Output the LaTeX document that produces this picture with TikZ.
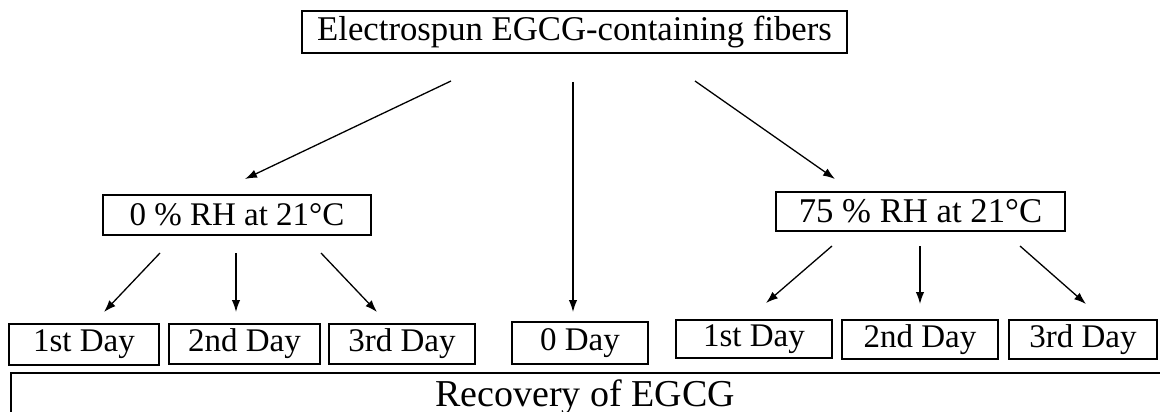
\documentclass[tikz,border=0pt]{standalone}
\usepackage{fontspec}
\setmainfont{Liberation Serif}
\usetikzlibrary{arrows.meta}
\begin{document}
\begin{tikzpicture}[x=1pt,y=-1pt,
  box/.style={draw,line width=1.5pt,inner sep=0pt,font=\fontsize{33}{38}\selectfont,anchor=center},
  big/.style={font=\fontsize{34.7}{40}\selectfont},
  arr/.style={line width=1.3pt,-{Latex[length=12pt,width=8.5pt]}}]
\clip (0,0) rectangle (1160,412);
\fill[white] (0,0) rectangle (1160,412);
% main nodes
\node[box,big,minimum width=545pt,minimum height=42pt] (top) at (574.5,32) {Electrospun EGCG-containing fibers};
\node[box,minimum width=268pt,minimum height=40pt] (left) at (237,215) {0 \% RH at 21°C};
\node[box,big,minimum width=289pt,minimum height=39pt] (right) at (920.5,211.5) {75 \% RH at 21°C};
\node[box,minimum width=150pt,minimum height=41pt] (l1) at (84,344.5) {1st Day};
\node[box,minimum width=151pt,minimum height=40pt] (l2) at (244.5,344) {2nd Day};
\node[box,minimum width=146pt,minimum height=40pt] (l3) at (402,344) {3rd Day};
\node[box,minimum width=136pt,minimum height=42pt] (d0) at (580,343) {0 Day};
\node[box,minimum width=156pt,minimum height=38pt] (r1) at (754,339) {1st Day};
\node[box,minimum width=156pt,minimum height=39pt] (r2) at (920,339.5) {2nd Day};
\node[box,minimum width=148pt,minimum height=39pt] (r3) at (1083,339.5) {3rd Day};
\node[box,anchor=north west,minimum width=1160pt,minimum height=80pt] (rec) at (10,372) {};
\node[font=\fontsize{38}{43}\selectfont,anchor=base] (rectext) at (585,406) {Recovery of EGCG};
% connector end points
\coordinate (a1s) at (451,81);  \coordinate (a1e) at (245,179);
\coordinate (a2s) at (573,82);  \coordinate (a2e) at (573,312);
\coordinate (a3s) at (695,81);  \coordinate (a3e) at (835,179);
\coordinate (b1s) at (160,253); \coordinate (b1e) at (104,312);
\coordinate (b2s) at (236,253); \coordinate (b2e) at (236,312);
\coordinate (b3s) at (321,253); \coordinate (b3e) at (377,312);
\coordinate (c1s) at (832,246); \coordinate (c1e) at (766,303);
\coordinate (c2s) at (920,246); \coordinate (c2e) at (920,304);
\coordinate (c3s) at (1020,246); \coordinate (c3e) at (1086,304);
\draw[arr] (a1s) -- (a1e);
\draw[arr] (a2s) -- (a2e);
\draw[arr] (a3s) -- (a3e);
\draw[arr] (b1s) -- (b1e);
\draw[arr] (b2s) -- (b2e);
\draw[arr] (b3s) -- (b3e);
\draw[arr] (c1s) -- (c1e);
\draw[arr] (c2s) -- (c2e);
\draw[arr] (c3s) -- (c3e);
\end{tikzpicture}
\end{document}
